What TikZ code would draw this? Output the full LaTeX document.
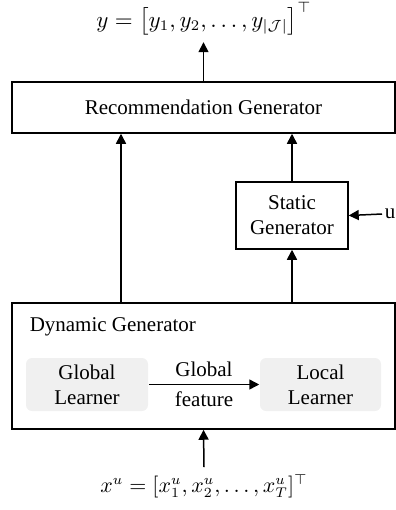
\documentclass[tikz,border=0pt]{standalone}
\usepackage{amsmath, fontspec}
\setmainfont{Liberation Serif}
\usetikzlibrary{arrows.meta, positioning}
\tikzset{>={Triangle[length=5pt,width=5pt]}}
\tikzset{box/.style={draw, line width=0.75pt, inner sep=0pt, align=center},
learner/.style={fill=gray!12, rounded corners=3pt, inner sep=0pt, align=center}}

\begin{document}
\begin{tikzpicture}[x=0.5pt, y=-0.5pt, line width=0.75pt, font=\fontsize{10.5}{12.5}\selectfont]
\useasboundingbox (0,0) rectangle (396,510);
\node[box, minimum width=191.5pt, minimum height=25.5pt] (rec) at (203.5,107.5) {Recommendation Generator};
\node[box, minimum width=56pt, minimum height=33.5pt] (stat) at (292,215.5) {Static\\Generator};
\node[box, minimum width=191.5pt, minimum height=63pt] (dyn) at (203.5,366) {};
\node[anchor=west, inner sep=0pt] (dyntitle) at (29,327) {Dynamic Generator};
\node[learner, minimum width=61pt, minimum height=26.5pt] (gl) at (87,384.5) {Global\\Learner};
\node[learner, minimum width=60.5pt, minimum height=26.5pt] (ll) at (320.5,384.5) {Local\\Learner};
\node[inner sep=1pt, scale=1.05] (y) at (204,19) {$y=\big[y_1,y_2,\dots,y_{|\mathcal{J}|}\big]^\top$};
\node (x) at (204,486) {$x^u=[x^u_1,x^u_2,\dots,x^u_T]^\top$};
\node[inner sep=1pt] (u) at (390,214) {u};
\coordinate (lx) at (121,0);
\draw[->, shorten >=2pt] (rec.north) -- (rec.north |- y.south);
\draw[->] (dyn.north -| lx) -- (rec.south -| lx);
\draw[->] (dyn.north -| stat) -- (stat.south);
\draw[->] (stat.north) -- (rec.south -| stat);
\draw[->] (u.west) -- (stat.east);
\draw[->] (gl.east) -- (ll.west) node[midway, above] {Global} node[midway, below] {feature};
\draw[->] (x.north) -- (dyn.south);
\end{tikzpicture}
\end{document}
